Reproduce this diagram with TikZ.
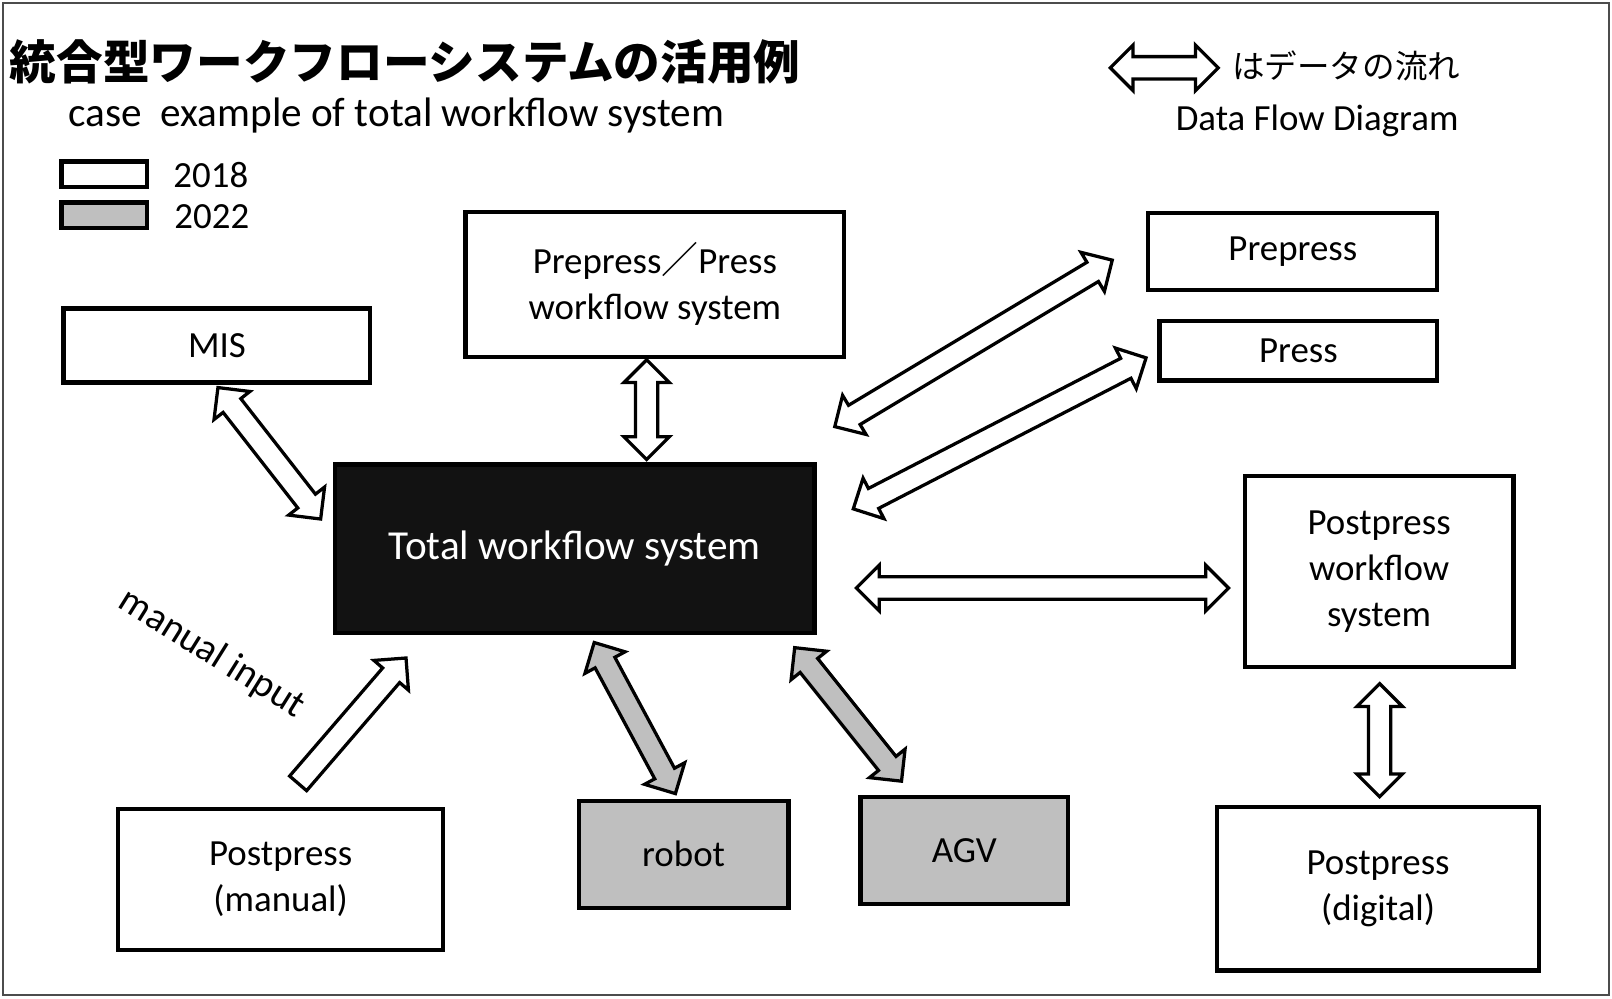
\documentclass[tikz,border=0pt]{standalone}
\usepackage{fontspec}
\setmainfont{Carlito}
\newfontfamily\jpfont{Noto Sans CJK JP}
\usetikzlibrary{calc}

\tikzset{
    box/.style={draw, line width=1.2pt, fill=white, align=center, inner sep=0pt,
        font=\fontsize{10.2}{12.7}\selectfont},
    newbox/.style={box, fill=black!25},
    flow/.style={draw, line width=0.9pt, line join=miter},
    frame/.style={draw=black!70, line width=0.6pt},
}

% block arrow with a head at both ends
\newcommand{\dataflow}[3][white]{%
    \draw[flow, fill=#1] let \p1=($(#3)-(#2)$), \n1={atan2(\y1,\x1)}, \n2={veclen(\x1,\y1)} in
        [shift={(#2)}, rotate=\n1]
        (0pt,0pt) -- (6.3pt,6.3pt) -- (6.3pt,3.1pt) -- ({\n2-6.3pt},3.1pt) -- ({\n2-6.3pt},6.3pt)
        -- (\n2,0pt) -- ({\n2-6.3pt},-6.3pt) -- ({\n2-6.3pt},-3.1pt) -- (6.3pt,-3.1pt)
        -- (6.3pt,-6.3pt) -- cycle;}
% block arrow with one head
\newcommand{\inputflow}[3][white]{%
    \draw[flow, fill=#1] let \p1=($(#3)-(#2)$), \n1={atan2(\y1,\x1)}, \n2={veclen(\x1,\y1)} in
        [shift={(#2)}, rotate=\n1]
        (0pt,3.1pt) -- ({\n2-6.3pt},3.1pt) -- ({\n2-6.3pt},6.3pt) -- (\n2,0pt)
        -- ({\n2-6.3pt},-6.3pt) -- ({\n2-6.3pt},-3.1pt) -- (0pt,-3.1pt) -- cycle;}

\begin{document}
\begin{tikzpicture}[x=0.01cm, y=-0.01cm]
    \useasboundingbox (0,0) rectangle (1568,971);
    \draw[frame] (3,3) rectangle (1565,968);

    % title and legend
    \node[anchor=west, inner sep=0pt, font=\jpfont\bfseries\fontsize{12.9}{15}\selectfont] (title) at (9,60) {統合型ワークフローシステムの活用例};
    \node[anchor=west, inner sep=0pt, font=\fontsize{11.4}{14}\selectfont] (subtitle) at (66,112) {case\ \ example of total workflow system};
    \node[box, minimum width=0.83cm, minimum height=0.25cm] (old) at (101.5,169.5) {};
    \node[newbox, minimum width=0.83cm, minimum height=0.25cm] (new) at (101.5,209.5) {};
    \node[anchor=west, inner sep=0pt, font=\fontsize{10.2}{12}\selectfont] (oldlabel) at (168,170) {2018};
    \node[anchor=west, inner sep=0pt, font=\fontsize{10.2}{12}\selectfont] (newlabel) at (169,211) {2022};
    \coordinate (legA) at (1080,66);
    \coordinate (legB) at (1185,66);
    \dataflow{legA}{legB}
    \node[anchor=west, inner sep=0pt, font=\jpfont\fontsize{9}{11}\selectfont] (legjp) at (1198,64) {はデータの流れ};
    \node[anchor=west, inner sep=0pt, font=\fontsize{10.2}{12}\selectfont] (legen) at (1143,118) {Data Flow Diagram};

    % systems
    \node[box, minimum width=2.98cm, minimum height=0.72cm] (mis) at (211,336) {MIS};
    \node[box, minimum width=3.68cm, minimum height=1.41cm] (ppwf) at (637,276.5) {Prepress{\jpfont ／}Press\\workflow system};
    \node[box, minimum width=2.81cm, minimum height=0.75cm] (prepress) at (1257.5,244.5) {Prepress};
    \node[box, minimum width=2.70cm, minimum height=0.58cm] (press) at (1263,341) {Press};
    \node[box, fill=black!93, text=white, minimum width=4.66cm, minimum height=1.64cm,
        font=\fontsize{11.4}{14}\selectfont] (total) at (559,534) {Total workflow system};
    \node[box, minimum width=2.61cm, minimum height=1.86cm] (postwf) at (1341.5,556) {Postpress\\workflow\\system};
    \node[box, minimum width=3.16cm, minimum height=1.37cm] (postman) at (273,855.5) {Postpress\\(manual)};
    \node[newbox, minimum width=2.04cm, minimum height=1.04cm] (robot) at (665,831) {robot};
    \node[newbox, minimum width=2.02cm, minimum height=1.04cm] (agv) at (938,827) {AGV};
    \node[box, minimum width=3.13cm, minimum height=1.59cm] (postdig) at (1340.5,864.5) {Postpress\\(digital)};
    \node[rotate=-32, inner sep=0pt, font=\fontsize{10.8}{13}\selectfont] (manual) at (206,636) {manual input};

    % arrow ends
    \coordinate (misA) at (212,377);   \coordinate (misB) at (312,505);
    \coordinate (ppwfA) at (629,350);  \coordinate (ppwfB) at (629,447);
    \coordinate (preA) at (812,415);   \coordinate (preB) at (1082,253);
    \coordinate (pressA) at (830,495); \coordinate (pressB) at (1115,348);
    \coordinate (postA) at (833,572);  \coordinate (postB) at (1195,572);
    \coordinate (digA) at (1342,665);  \coordinate (digB) at (1342,775);
    \coordinate (manA) at (290,762);   \coordinate (manB) at (395,640);
    \coordinate (robA) at (578,625);   \coordinate (robB) at (657,772);
    \coordinate (agvA) at (773,630);   \coordinate (agvB) at (877,760);

    % data flow
    \dataflow{misA}{misB}
    \dataflow{ppwfA}{ppwfB}
    \dataflow{preA}{preB}
    \dataflow{pressA}{pressB}
    \dataflow{postA}{postB}
    \dataflow{digA}{digB}
    \inputflow{manA}{manB}
    \dataflow[black!25]{robA}{robB}
    \dataflow[black!25]{agvA}{agvB}
\end{tikzpicture}
\end{document}
